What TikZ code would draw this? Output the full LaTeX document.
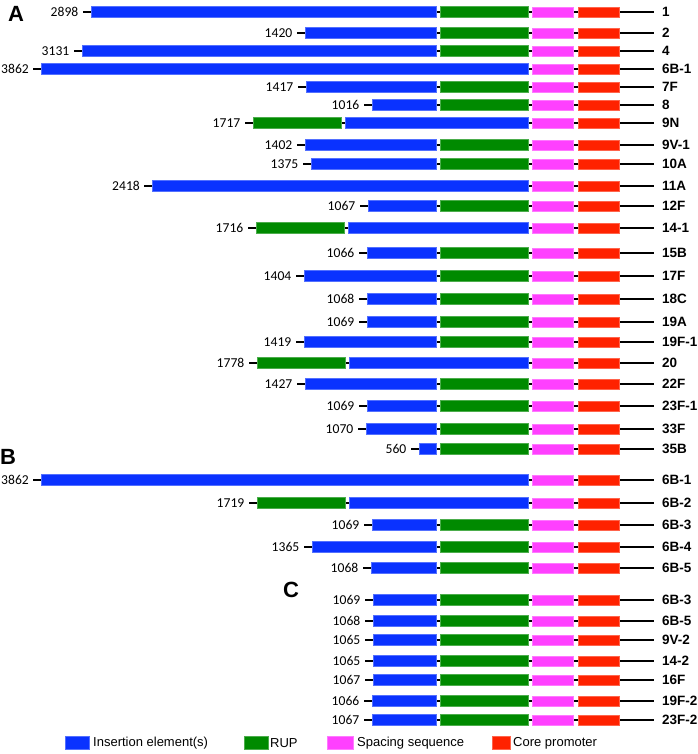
\documentclass[tikz,border=0pt]{standalone}
\usepackage{fontspec}
\newfontfamily\numfont{Carlito}
\newfontfamily\arialfont{Liberation Sans}
\definecolor{ieblue}{HTML}{0A32FF}
\definecolor{rupgreen}{HTML}{008A00}
\definecolor{sppink}{HTML}{FF40FF}
\definecolor{cpred}{HTML}{FF2200}
\tikzset{
  seg/.style={rectangle, inner sep=0pt, outer sep=0pt, line width=0.4pt, anchor=west},
  ie/.style={seg, fill=ieblue, draw=ieblue!70!white, minimum height=11pt},
  rup/.style={seg, fill=rupgreen, draw=rupgreen!70!white, minimum height=11pt},
  sp/.style={seg, fill=sppink, draw=sppink!70!white, minimum height=10pt},
  cp/.style={seg, fill=cpred, draw=cpred!70!white, minimum height=10pt},
  bb/.style={draw=black, line width=1.7pt},
  numlab/.style={font=\numfont\fontsize{13.6}{16}\selectfont, inner sep=0pt, anchor=east},
  namelab/.style={font=\arialfont\bfseries\fontsize{13.5}{15}\selectfont, inner sep=0pt, anchor=west},
  panel/.style={font=\arialfont\bfseries\fontsize{22}{24}\selectfont, inner sep=0pt, anchor=west},
  leglab/.style={font=\arialfont\fontsize{13}{15}\selectfont, inner sep=0pt, anchor=west},
}
% common right part
\newcommand\tailpart[4]{% #1 id, #2 y, #3 name, #4 line start x
  \coordinate (#1t) at (#4,#2);
  \coordinate (#1e) at (654,#2);
  \draw[bb] (#1t) -- (#1e);
  \node[sp, minimum width=41pt] (#1sp) at (532,#2) {};
  \node[cp, minimum width=41pt] (#1cp) at (578,#2) {};
  \node[namelab] (#1l) at (662,#2) {#3};
}
% standard row: IE + RUP + spacing + core
\newcommand\stdrow[5]{% #1 id, #2 y, #3 start, #4 num, #5 name
  \pgfmathsetmacro\wie{436-#3}
  \tailpart{#1}{#2}{#5}{#3-8}
  \node[ie, minimum width=\wie pt] (#1ie) at (#3,#2) {};
  \node[rup, minimum width=88pt] (#1rup) at (440,#2) {};
  \node[numlab] (#1n) at (#3-12.5,#2) {#4};
}
% IE only row
\newcommand\ierow[5]{%
  \pgfmathsetmacro\wie{528-#3}
  \tailpart{#1}{#2}{#5}{#3-8}
  \node[ie, minimum width=\wie pt] (#1ie) at (#3,#2) {};
  \node[numlab] (#1n) at (#3-12,#2) {#4};
}
% RUP first then IE
\newcommand\grow[5]{%
  \pgfmathsetmacro\wie{528-(#3+92)}
  \tailpart{#1}{#2}{#5}{#3-8}
  \node[rup, minimum width=88pt] (#1rup) at (#3,#2) {};
  \node[ie, minimum width=\wie pt] (#1ie) at (#3+92,#2) {};
  \node[numlab] (#1n) at (#3-12.5,#2) {#4};
}
\begin{document}
\begin{tikzpicture}[x=1pt, y=-1pt]
\useasboundingbox (0,0) rectangle (697,754);
% Panel A
\node[panel] (pA) at (8,14) {A};
\stdrow{ra}{12}{91}{2898}{1}
\stdrow{rb}{33}{305}{1420}{2}
\stdrow{rc}{51}{82}{3131}{4}
\ierow{rd}{69}{41}{3862}{6B-1}
\stdrow{re}{87}{306}{1417}{7F}
\stdrow{rf}{105}{372}{1016}{8}
\grow{rg}{123}{253}{1717}{9N}
\stdrow{rh}{145}{305}{1402}{9V-1}
\stdrow{ri}{164}{311}{1375}{10A}
\ierow{rj}{186}{152}{2418}{11A}
\stdrow{rk}{206}{368}{1067}{12F}
\grow{rl}{228}{256}{1716}{14-1}
\stdrow{rm}{253}{367}{1066}{15B}
\stdrow{rn}{276}{304}{1404}{17F}
\stdrow{ro}{299}{367}{1068}{18C}
\stdrow{rp}{322}{367}{1069}{19A}
\stdrow{rq}{342}{304}{1419}{19F-1}
\grow{rr}{363}{257}{1778}{20}
\stdrow{rs}{384}{305}{1427}{22F}
\stdrow{rt}{406}{367}{1069}{23F-1}
\stdrow{ru}{429}{366}{1070}{33F}
\stdrow{rv}{449}{419}{560}{35B}
% Panel B
\node[panel] (pB) at (0,457) {B};
\ierow{ba}{480}{41}{3862}{6B-1}
\grow{bb}{503}{257}{1719}{6B-2}
\stdrow{bc}{525}{372}{1069}{6B-3}
\stdrow{bd}{547}{312}{1365}{6B-4}
\stdrow{be}{568}{371}{1068}{6B-5}
% Panel C
\node[panel] (pC) at (283,590) {C};
\stdrow{ca}{600}{373}{1069}{6B-3}
\stdrow{cb}{621}{373}{1068}{6B-5}
\stdrow{cc}{640}{373}{1065}{9V-2}
\stdrow{cd}{661}{373}{1065}{14-2}
\stdrow{ce}{680}{373}{1067}{16F}
\stdrow{cf}{701}{372}{1066}{19F-2}
\stdrow{cg}{720}{372}{1067}{23F-2}
% Legend
\node[ie, minimum width=24pt, minimum height=13pt] (lg1) at (65,743) {};
\node[leglab] (lt1) at (93,743) {Insertion element(s)};
\node[rup, minimum width=24pt, minimum height=13pt] (lg2) at (244,743) {};
\node[leglab] (lt2) at (270,743) {RUP};
\node[sp, minimum width=26pt, minimum height=13pt] (lg3) at (327,743) {};
\node[leglab] (lt3) at (357,743) {Spacing sequence};
\node[cp, minimum width=18pt, minimum height=13pt] (lg4) at (492,743) {};
\node[leglab] (lt4) at (513,743) {Core promoter};
\end{tikzpicture}
\end{document}
